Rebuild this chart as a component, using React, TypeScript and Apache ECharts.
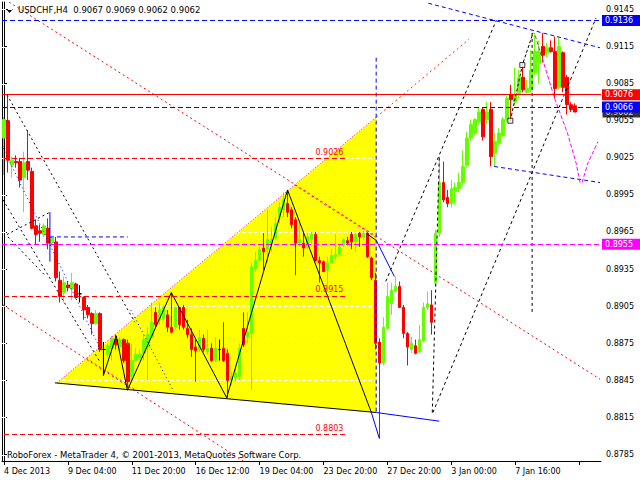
import React, { useEffect, useRef } from 'react';
import * as echarts from 'echarts';

const FONT = '"DejaVu Sans", Verdana, sans-serif';

// ---------- axes ----------
const N_BARS = 150;
const X_TICK_STEP = 16;
const xTickLabels = ['4 Dec 2013', '9 Dec 04:00', '11 Dec 20:00', '16 Dec 12:00', '19 Dec 04:00', '23 Dec 20:00', '27 Dec 20:00', '3 Jan 00:00', '7 Jan 16:00'];
const yTickValues = [0.9145, 0.9115, 0.9085, 0.9055, 0.9025, 0.8995, 0.8965, 0.8935, 0.8905, 0.8875, 0.8845, 0.8815, 0.8785];
const Y_MIN = 0.87798;
const Y_MAX = 0.9151;

// ---------- candles (H4) ----------
const opens = [
  0.9041, 0.9055, 0.9019, 0.9022, 0.9022, 0.9009, 0.9022, 0.9014, 0.8970, 0.8966,
  0.8963, 0.8968, 0.8956, 0.8957, 0.8926, 0.8916, 0.8922, 0.8919, 0.8923, 0.8915,
  0.8912, 0.8904, 0.8899, 0.8891, 0.8899, 0.8870, 0.8866, 0.8871, 0.8878, 0.8872,
  0.8878, 0.8875, 0.8848, 0.8861, 0.8863, 0.8867, 0.8872, 0.8880, 0.8900, 0.8894,
  0.8895, 0.8898, 0.8888, 0.8888, 0.8904, 0.8904, 0.8887, 0.8882, 0.8872, 0.8870,
  0.8879, 0.8868, 0.8871, 0.8861, 0.8870, 0.8871, 0.8867, 0.8845, 0.8847, 0.8848,
  0.8887, 0.8880, 0.8883, 0.8935, 0.8942, 0.8952, 0.8951, 0.8955, 0.8960, 0.8977,
  0.8983, 0.8988, 0.8983, 0.8975, 0.8956, 0.8956, 0.8953, 0.8959, 0.8963, 0.8942,
  0.8941, 0.8934, 0.8940, 0.8945, 0.8947, 0.8954, 0.8958, 0.8963, 0.8957, 0.8964,
  0.8961, 0.8964, 0.8944, 0.8926, 0.8876, 0.8859, 0.8887, 0.8907, 0.8917, 0.8921,
  0.8904, 0.8883, 0.8870, 0.8873, 0.8868, 0.8877, 0.8904, 0.8906, 0.8924, 0.8964,
  0.9005, 0.8993, 0.8988, 0.8998, 0.9000, 0.9005, 0.9019, 0.9041, 0.9045, 0.9054,
  0.9064, 0.9056, 0.9064, 0.9029, 0.9037, 0.9043, 0.9056, 0.9076, 0.9070, 0.9076,
  0.9090, 0.9078, 0.9080, 0.9094, 0.9102, 0.9115, 0.9110, 0.9114, 0.9111, 0.9082,
  0.9110, 0.9090, 0.9068, 0.9067,
];
const closes = [
  0.9056, 0.9023, 0.9023, 0.9021, 0.9007, 0.9021, 0.9015, 0.8968, 0.8963, 0.8964,
  0.8970, 0.8956, 0.8960, 0.8928, 0.8913, 0.8924, 0.8920, 0.8924, 0.8912, 0.8915,
  0.8902, 0.8898, 0.8891, 0.8899, 0.8870, 0.8870, 0.8873, 0.8879, 0.8874, 0.8878,
  0.8861, 0.8844, 0.8861, 0.8866, 0.8866, 0.8878, 0.8882, 0.8892, 0.8890, 0.8902,
  0.8904, 0.8888, 0.8884, 0.8904, 0.8890, 0.8888, 0.8882, 0.8870, 0.8869, 0.8880,
  0.8870, 0.8871, 0.8861, 0.8871, 0.8870, 0.8861, 0.8845, 0.8848, 0.8851, 0.8871,
  0.8874, 0.8884, 0.8937, 0.8942, 0.8951, 0.8949, 0.8959, 0.8959, 0.8972, 0.8985,
  0.8991, 0.8981, 0.8971, 0.8956, 0.8959, 0.8952, 0.8961, 0.8963, 0.8942, 0.8940,
  0.8933, 0.8940, 0.8946, 0.8947, 0.8953, 0.8959, 0.8956, 0.8957, 0.8963, 0.8961,
  0.8964, 0.8945, 0.8928, 0.8875, 0.8859, 0.8888, 0.8913, 0.8918, 0.8921, 0.8904,
  0.8883, 0.8872, 0.8875, 0.8867, 0.8878, 0.8904, 0.8907, 0.8892, 0.8964, 0.9005,
  0.8991, 0.8988, 0.9000, 0.9001, 0.9005, 0.9018, 0.9041, 0.9052, 0.9056, 0.9062,
  0.9042, 0.9062, 0.9026, 0.9038, 0.9045, 0.9056, 0.9073, 0.9072, 0.9076, 0.9090,
  0.9080, 0.9081, 0.9096, 0.9111, 0.9111, 0.9108, 0.9114, 0.9111, 0.9081, 0.9115,
  0.9082, 0.9068, 0.9064, 0.9062,
];
const lows = [
  0.9011, 0.9013, 0.9009, 0.9017, 0.9001, 0.8981, 0.9007, 0.8967, 0.8955, 0.8957,
  0.8961, 0.8951, 0.8953, 0.8925, 0.8908, 0.8908, 0.8917, 0.8910, 0.8911, 0.8908,
  0.8894, 0.8895, 0.8882, 0.8890, 0.8868, 0.8849, 0.8864, 0.8861, 0.8870, 0.8868,
  0.8859, 0.8839, 0.8845, 0.8860, 0.8861, 0.8861, 0.8845, 0.8879, 0.8888, 0.8890,
  0.8894, 0.8884, 0.8883, 0.8886, 0.8886, 0.8886, 0.8879, 0.8864, 0.8844, 0.8868,
  0.8868, 0.8866, 0.8860, 0.8860, 0.8861, 0.8860, 0.8831, 0.8841, 0.8844, 0.8845,
  0.8872, 0.8875, 0.8837, 0.8933, 0.8941, 0.8934, 0.8940, 0.8949, 0.8959, 0.8972,
  0.8977, 0.8977, 0.8968, 0.8930, 0.8953, 0.8945, 0.8951, 0.8955, 0.8941, 0.8924,
  0.8933, 0.8921, 0.8939, 0.8942, 0.8945, 0.8953, 0.8955, 0.8951, 0.8949, 0.8953,
  0.8959, 0.8944, 0.8926, 0.8870, 0.8798, 0.8857, 0.8886, 0.8898, 0.8916, 0.8904,
  0.8879, 0.8857, 0.8867, 0.8866, 0.8867, 0.8876, 0.8902, 0.8882, 0.8921, 0.8961,
  0.8989, 0.8985, 0.8985, 0.8987, 0.8997, 0.9003, 0.9017, 0.9039, 0.9043, 0.9052,
  0.9039, 0.9052, 0.9018, 0.9018, 0.9035, 0.9042, 0.9054, 0.9054, 0.9068, 0.9073,
  0.9078, 0.9077, 0.9078, 0.9092, 0.9085, 0.9102, 0.9106, 0.9110, 0.9073, 0.9080,
  0.9078, 0.9060, 0.9062, 0.9062,
];
const highs = [
  0.9058, 0.9076, 0.9026, 0.9027, 0.9025, 0.9030, 0.9047, 0.9017, 0.8975, 0.8971,
  0.8972, 0.8976, 0.8962, 0.8961, 0.8933, 0.8929, 0.8925, 0.8932, 0.8924, 0.8922,
  0.8913, 0.8906, 0.8900, 0.8902, 0.8900, 0.8876, 0.8875, 0.8881, 0.8882, 0.8880,
  0.8879, 0.8878, 0.8875, 0.8871, 0.8870, 0.8882, 0.8888, 0.8908, 0.8904, 0.8908,
  0.8906, 0.8902, 0.8916, 0.8904, 0.8904, 0.8906, 0.8894, 0.8887, 0.8878, 0.8886,
  0.8882, 0.8886, 0.8875, 0.8880, 0.8878, 0.8892, 0.8870, 0.8852, 0.8857, 0.8875,
  0.8900, 0.8900, 0.8940, 0.8949, 0.8953, 0.8964, 0.8983, 0.8969, 0.8977, 0.8989,
  0.8997, 0.8999, 0.8985, 0.8977, 0.8972, 0.8964, 0.8964, 0.8965, 0.8965, 0.8945,
  0.8942, 0.8945, 0.8951, 0.8963, 0.8955, 0.8960, 0.8961, 0.8965, 0.8964, 0.8965,
  0.8966, 0.8965, 0.8945, 0.8932, 0.8879, 0.8896, 0.8924, 0.8924, 0.8929, 0.8925,
  0.8906, 0.8884, 0.8880, 0.8878, 0.8890, 0.8908, 0.8917, 0.8918, 0.8967, 0.9026,
  0.9022, 0.8999, 0.9007, 0.9005, 0.9013, 0.9031, 0.9046, 0.9056, 0.9057, 0.9066,
  0.9066, 0.9070, 0.9070, 0.9045, 0.9049, 0.9058, 0.9075, 0.9084, 0.9098, 0.9096,
  0.9102, 0.9088, 0.9112, 0.9126, 0.9120, 0.9126, 0.9118, 0.9120, 0.9123, 0.9122,
  0.9111, 0.9092, 0.9070, 0.9069,
];

// ---------- horizontal levels ----------
const fullSpan = [-0.5, 149.5];
const levelTopBlue = 0.9136;
const levelRed = 0.9076;
const levelBlue = 0.9066;
const levelBid = 0.9062;
const levelMagenta = 0.8955;
const partialLevels = [0.90248, 0.89133, 0.88016];
const partialLabels = ['0.9026', '0.8915', '0.8803'];
const partialSpan = [0, 85.5];
const topLabelLevel = 0.9137;

// ---------- drawn objects: [bar index, price] ----------
const fillTriangle = [[13.25, 0.8843], [93.25, 0.9058], [93.25, 0.8819]];
const fillUpperEdge = [[13.25, 0.8843], [93.25, 0.9058]];
const trendR1 = [[1.25, 0.9151], [149.25, 0.8846]];
const trendR1InFill = [[72.75, 0.9003], [93.25, 0.89605]];
const trendR2 = [[-0.25, 0.8906], [60.25, 0.8779]];
const trendR2InFill = [[20.6, 0.8863], [33.1, 0.8837]];
const trendR3 = [[93.25, 0.9058], [116.5, 0.9121]];
const baseInFill = [[12.75, 0.8843], [93.25, 0.8819]];
const baseOut = [[93.25, 0.8819], [109, 0.8812]];
const zigzagInFill = [[24.9, 0.8876], [24.9, 0.8849], [28.1, 0.8881], [30.9, 0.8837], [41.9, 0.8916], [55.75, 0.8831], [71, 0.8999], [92, 0.8819]];
const zigzagOut = [[92, 0.8819], [94, 0.8798]];
const dropInFill = [[90.75, 0.8964], [93.25, 0.8958]];
const dropOut = [[93.25, 0.8958], [97.75, 0.8929]];
const vertBlue = [[93.2, 0.9106], [93.2, 0.8819]];
const shortBlue = [[11.5, 0.8961], [31, 0.8961]];
const tickBlue = [[11.5, 0.8981], [11.5, 0.8941]];
const fanL1 = [[95.6, 0.8925], [123.25, 0.9136]];
const fanL2 = [[107.4, 0.8819], [148.25, 0.9138]];
const steepBlack = [[107.25, 0.8819], [109, 0.9026]];
const vertBlack = [[132.25, 0.9126], [132.25, 0.8900]];
const channelTop = [[106.25, 0.9150], [149.25, 0.9114]];
const channelBottom = [[122.75, 0.9018], [149.25, 0.9005]];
const forecastPath = [[133, 0.9124], [135.5, 0.9098], [138, 0.9072], [141.1, 0.9045], [143.25, 0.9021], [144.25, 0.9005], [144.75, 0.9005], [146.25, 0.9021], [148.75, 0.9038]];
const leftK1 = [[0.75, 0.9076], [32.75, 0.8892]];
const leftK2 = [[-0.25, 0.8991], [24, 0.8860]];
const leftK3 = [[0.75, 0.8963], [11.5, 0.8981]];
const leftK3b = [[1, 0.8961], [10.25, 0.8930]];
const leftBlue1 = [[-0.25, 0.9033], [24.5, 0.8868]];
const leftBlue2 = [[31.75, 0.8902], [42.5, 0.8836]];
const squaresPath = [[126.8, 0.9055], [129.8, 0.9100], [132.5, 0.9126]];
const squareMarks = [[126.8, 0.9055], [129.8, 0.9100]];

const RED = '#ff0000';
const BLUE = '#0000ff';
const MAG = '#ff00ff';
const BLK = '#000000';
const GREEN = '#66ff00';

function mkLine(data: number[][], color: string, dash: any, width = 1, z = 3) {
  return {
    type: 'line', xAxisIndex: 1, yAxisIndex: 0, data, symbol: 'none', showSymbol: false,
    silent: true, clip: true, z, emphasis: { disabled: true },
    lineStyle: { color, width, type: dash },
  };
}

function boxStyle(bg: string) {
  return {
    backgroundColor: bg, color: '#ffffff', fontSize: 8, fontFamily: FONT,
    padding: [1, 2, 1, 3], width: 34, lineHeight: 9,
  };
}

function boxLabel(text: string, bg: string) {
  return { show: true, position: 'end', formatter: text, distance: 1, ...boxStyle(bg) };
}

function levelItem(value: number, lineStyle: any, label: any) {
  return [
    { coord: [fullSpan[0], value], lineStyle, label },
    { coord: [fullSpan[1], value] },
  ];
}

function buildOption(): any {
  const categories = Array.from({ length: N_BARS }, (_, i) => (i % X_TICK_STEP === 0 ? xTickLabels[i / X_TICK_STEP] ?? '' : ''));
  const candleData = opens.map((o, i) => [o, closes[i], lows[i], highs[i]]);

  const partialMarks: any[] = partialLevels.map((v, k) => [
    {
      coord: [partialSpan[0], v],
      lineStyle: { color: RED, type: [5, 3], width: 1 },
      label: { show: true, position: 'insideEndTop', formatter: partialLabels[k], color: RED, fontSize: 8, fontFamily: FONT, distance: 2 },
    },
    { coord: [partialSpan[1], v] },
  ]);
  partialMarks.push([
    {
      coord: [partialSpan[0], topLabelLevel],
      lineStyle: { color: 'rgba(0,0,0,0)', width: 0, opacity: 0 },
      label: { show: true, position: 'insideEndTop', formatter: '0.9137', color: RED, fontSize: 8, fontFamily: FONT, distance: 1 },
    },
    { coord: [partialSpan[1], topLabelLevel] },
  ]);

  const levelMarks = [
    levelItem(levelTopBlue, { color: BLUE, type: [5, 3], width: 1 }, boxLabel('0.9136', BLUE)),
    levelItem(levelRed, { color: RED, type: 'solid', width: 1 }, boxLabel('0.9076', RED)),
    levelItem(levelBlue, { color: BLUE, type: [5, 3], width: 1 }, boxLabel('0.9066', BLUE)),
    levelItem(levelMagenta, { color: MAG, type: [5, 3], width: 1 }, boxLabel('0.8955', MAG)),
  ];

  return {
    animation: false,
    backgroundColor: '#ffffff',
    textStyle: { fontFamily: FONT },
    title: [
      { text: 'USDCHF,H4  0.9067 0.9069 0.9062 0.9062', left: 18, top: 5, padding: 0, textStyle: { fontSize: 8.5, fontWeight: 'normal', color: '#000', fontFamily: FONT } },
      { text: 'RoboForex - MetaTrader 4, © 2001-2013, MetaQuotes Software Corp.', left: 7, top: 450, padding: 0, textStyle: { fontSize: 8.5, fontWeight: 'normal', color: '#000', fontFamily: FONT } },
    ],
    graphic: [
      { type: 'polygon', shape: { points: [[6, 9], [13, 9], [9.5, 13]] }, style: { fill: '#000' } },
    ],
    grid: { left: 2, right: 39, top: 2, bottom: 19, containLabel: false },
    xAxis: [
      {
        type: 'category', data: categories, boundaryGap: true,
        axisLine: { show: true, lineStyle: { color: '#000', width: 1 } },
        axisTick: { show: true, interval: X_TICK_STEP - 1, alignWithLabel: true, length: 4, lineStyle: { color: '#000' } },
        axisLabel: { interval: X_TICK_STEP - 1, align: 'left', margin: 6, fontSize: 8, color: '#000', fontFamily: FONT },
        splitLine: { show: false },
      },
      { type: 'value', min: -0.5, max: N_BARS - 0.5, show: false },
    ],
    yAxis: [
      {
        type: 'value', position: 'right', min: Y_MIN, max: Y_MAX, scale: true,
        axisLine: { show: true, lineStyle: { color: '#000', width: 1 } },
        axisTick: { show: true, length: 3, customValues: yTickValues, lineStyle: { color: '#000' } },
        axisLabel: { customValues: yTickValues, formatter: (v: number) => v.toFixed(4), margin: 5, fontSize: 8, color: '#000', fontFamily: FONT },
        splitLine: { show: false },
      },
      {
        type: 'value', position: 'left', min: Y_MIN, max: Y_MAX, scale: true,
        axisLine: { show: true, lineStyle: { color: '#000', width: 1 } },
        axisTick: { show: false }, axisLabel: { show: false }, splitLine: { show: false },
      },
    ],
    series: [
      {
        type: 'custom', xAxisIndex: 1, yAxisIndex: 0, z: 1, silent: true,
        data: [[0, 0.9]],
        renderItem: (params: any, api: any) => {
          const cs = params.coordSys;
          const pts = fillTriangle.map((v) => api.coord(v));
          const grid = yTickValues.map((v) => {
            const y = Math.round(api.coord([0, v])[1]) + 0.5;
            return { type: 'line', shape: { x1: cs.x, y1: y, x2: cs.x + cs.width, y2: y }, style: { stroke: '#ffffff', lineWidth: 1, lineDash: [4, 2] } };
          });
          return { type: 'group', children: [{ type: 'polygon', shape: { points: pts }, style: { fill: '#ffff00' } }, ...grid] };
        },
      },
      {
        type: 'candlestick', xAxisIndex: 0, yAxisIndex: 0, data: candleData, barWidth: 3, z: 2, silent: true,
        itemStyle: { color: GREEN, color0: RED, borderColor: GREEN, borderColor0: RED, borderColorDoji: BLK, borderWidth: 1 },
      },
      mkLine(fillUpperEdge, MAG, [1, 2]),
      mkLine(trendR1, RED, [2, 3]),
      mkLine(trendR1InFill, MAG, [2, 3]),
      mkLine(trendR2, RED, [2, 3]),
      mkLine(trendR2InFill, MAG, [2, 3]),
      mkLine(trendR3, '#ff3300', [2, 3]),
      mkLine(baseInFill, BLK, 'solid'),
      mkLine(baseOut, BLUE, 'solid'),
      mkLine(zigzagInFill, BLK, 'solid'),
      mkLine(zigzagOut, BLUE, 'solid'),
      mkLine(dropInFill, BLK, 'solid'),
      mkLine(dropOut, BLUE, 'solid'),
      mkLine(vertBlue, BLUE, [4, 3]),
      mkLine(shortBlue, BLUE, [4, 3]),
      mkLine(tickBlue, BLUE, 'solid'),
      mkLine(fanL1, BLK, [3, 3]),
      mkLine(fanL2, BLK, [3, 3]),
      mkLine(steepBlack, BLK, [3, 3]),
      mkLine(vertBlack, BLK, [3, 3]),
      mkLine(channelTop, BLUE, [4, 3]),
      mkLine(channelBottom, BLUE, [4, 3]),
      mkLine(forecastPath, MAG, [4, 2]),
      mkLine(leftK1, BLK, [2, 3]),
      mkLine(leftK2, BLK, [2, 3]),
      mkLine(leftK3, BLK, [2, 3]),
      mkLine(leftK3b, BLK, [2, 3]),
      mkLine(leftBlue1, BLUE, [1, 3]),
      mkLine(leftBlue2, BLUE, [1, 3]),
      mkLine(squaresPath, BLK, [3, 2]),
      {
        type: 'scatter', xAxisIndex: 1, yAxisIndex: 0, data: squareMarks, symbol: 'rect', symbolSize: 5, z: 6, silent: true,
        itemStyle: { color: '#ffffff', borderColor: BLK, borderWidth: 1 },
      },
      {
        type: 'scatter', xAxisIndex: 1, yAxisIndex: 0, data: [[fullSpan[1], levelBid]], symbol: 'rect', symbolSize: 1, z: 3, silent: true, clip: false,
        itemStyle: { color: 'rgba(0,0,0,0)' },
        label: { show: true, position: 'right', distance: 1, formatter: '0.9062', ...boxStyle('#000000') },
      },
      {
        type: 'line', xAxisIndex: 1, yAxisIndex: 0, data: [], z: 4, silent: true,
        markLine: { silent: true, symbol: 'none', animation: false, data: partialMarks },
      },
      {
        type: 'line', xAxisIndex: 1, yAxisIndex: 0, data: [], z: 5, silent: true,
        markLine: { silent: true, symbol: 'none', animation: false, data: levelMarks },
      },
    ],
  };
}

export default function App() {
  const ref = useRef<HTMLDivElement>(null);
  useEffect(() => {
    if (!ref.current) return;
    const chart = echarts.init(ref.current, undefined, { renderer: 'svg' });
    chart.setOption(buildOption());
    return () => chart.dispose();
  }, []);
  return <div ref={ref} style={{ position: 'fixed', left: 0, top: 0, width: 640, height: 480, background: '#fff' }} />;
}
